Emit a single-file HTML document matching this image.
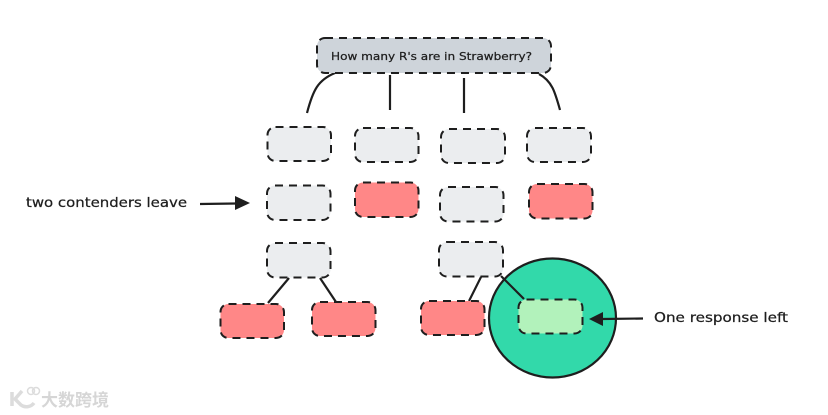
<!DOCTYPE html>
<html>
<head>
<meta charset="utf-8">
<style>
html,body{margin:0;padding:0;background:#fff;width:828px;height:415px;overflow:hidden}
svg{display:block}
text{font-family:"DejaVu Sans","Liberation Sans",sans-serif;fill:#1e1e1e;stroke:#1e1e1e;stroke-width:.25}
.b{stroke:#1e1e1e;stroke-width:2;stroke-dasharray:8 6}
.g{fill:#ebedef}
.r{fill:#ff8787}
.l{fill:none;stroke:#1e1e1e;stroke-width:2.200;stroke-linecap:butt}
</style>
</head>
<body>
<svg width="828" height="415" viewBox="0 0 828 415" xmlns="http://www.w3.org/2000/svg">
<rect width="828" height="415" fill="#fff"/>

<!-- connectors -->
<path class="l" d="M335 73C318 80 313 90 307 113"/>
<path class="l" d="M390 75V110"/>
<path class="l" d="M464 78V113"/>
<path class="l" d="M539 74C552 81 555 92 560 110"/>
<path class="l" d="M289 278L268 303"/>
<path class="l" d="M320 278L336 302"/>
<path class="l" d="M481 277L469 301"/>

<!-- root -->
<rect class="b" x="317" y="38" width="234" height="35" rx="8" fill="#ced4da"/>
<text x="331" y="60" font-size="11" textLength="201" lengthAdjust="spacingAndGlyphs">How many R's are in Strawberry?</text>

<!-- row 1 -->
<rect class="b g" x="267.500" y="127" width="63.500" height="34" rx="8"/>
<rect class="b g" x="355" y="128" width="63.500" height="34" rx="8"/>
<rect class="b g" x="441" y="129" width="64" height="34" rx="8"/>
<rect class="b g" x="527" y="128" width="64" height="34" rx="8"/>

<!-- row 2 -->
<rect class="b g" x="267" y="185.500" width="63.500" height="34.500" rx="8"/>
<rect class="b r" x="355" y="182.500" width="63.500" height="34.500" rx="8"/>
<rect class="b g" x="440" y="187" width="63.500" height="34.500" rx="8"/>
<rect class="b r" x="529" y="184" width="63.500" height="34.500" rx="8"/>

<!-- row 3 -->
<rect class="b g" x="267" y="243" width="63.500" height="34.500" rx="8"/>
<rect class="b g" x="439" y="242" width="64" height="34.500" rx="8"/>

<!-- row 4 -->
<rect class="b r" x="220.500" y="304" width="63.500" height="34" rx="8"/>
<rect class="b r" x="312" y="302" width="63.500" height="34" rx="8"/>
<rect class="b r" x="421" y="301" width="63.500" height="34" rx="8"/>

<!-- circle -->
<ellipse cx="552.500" cy="318" rx="63.500" ry="59.500" fill="#32d9aa" stroke="#1e1e1e" stroke-width="2.200"/>
<path class="l" d="M501 276L524 299"/>
<rect class="b" x="518.500" y="299.500" width="64" height="34" rx="8" fill="#b2f2bb"/>

<!-- left arrow -->
<path class="l" d="M200 204L236 203.500"/>
<path d="M235 196L250 203L235 210Z" fill="#1e1e1e"/>
<text x="26" y="207" font-size="13.500" textLength="161" lengthAdjust="spacingAndGlyphs">two contenders leave</text>

<!-- right arrow -->
<path class="l" d="M643 318.500L602 319"/>
<path d="M589 319L603 312L603 326Z" fill="#1e1e1e"/>
<text x="654" y="322" font-size="13.500" textLength="134" lengthAdjust="spacingAndGlyphs">One response left</text>

<!-- watermark -->
<path d="M12 392V406M22 391L15 399L21 405C25 408 31 407 34 403" fill="none" stroke="#dcdcdc" stroke-width="3.500"/>
<circle cx="31" cy="391" r="3.500" fill="none" stroke="#dcdcdc" stroke-width="1.500"/>
<circle cx="36" cy="391" r="3.500" fill="none" stroke="#dcdcdc" stroke-width="1.500"/>
<text x="41" y="406" font-size="17" textLength="68" style='font-family:"Noto Sans CJK SC",sans-serif;fill:#d6d6d6;stroke:none;font-weight:700'>大数跨境</text>
</svg>
</body>
</html>
